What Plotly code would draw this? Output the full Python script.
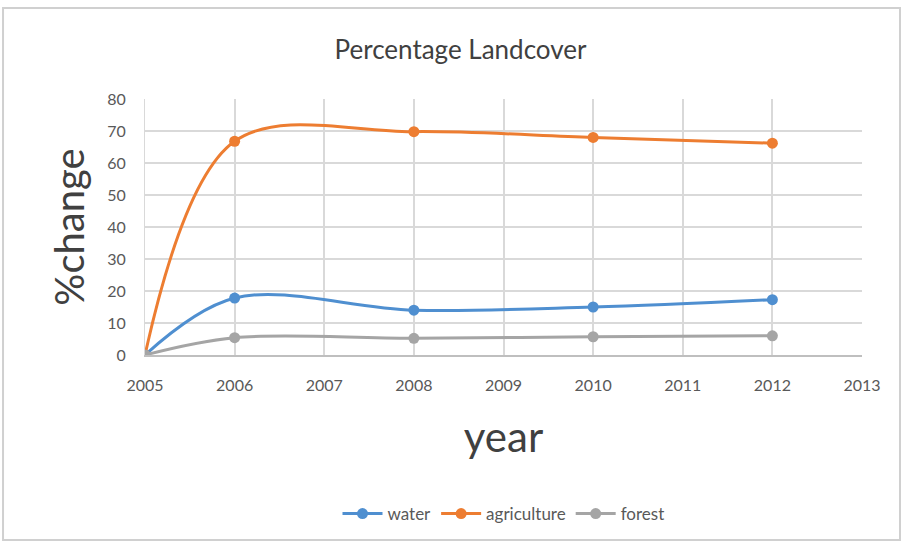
import plotly.graph_objects as go

years = [2005, 2006, 2008, 2010, 2012]
water = [0, 17.8, 14.0, 15.0, 17.3]
agriculture = [0, 66.8, 69.8, 68.0, 66.2]
forest = [0, 5.4, 5.2, 5.7, 6.0]

series = [("water", water, "#4F8FD0"), ("agriculture", agriculture, "#ED7D31"), ("forest", forest, "#A5A5A5")]

fig = go.Figure()
for name, vals, col in series:
    fig.add_trace(go.Scatter(x=years, y=vals, name=name, mode="lines+markers",
                             line=dict(color=col, width=3, shape="spline", smoothing=1.0),
                             marker=dict(color=col, size=11)))

font = "Lato, Open Sans, sans-serif"
fig.update_layout(
    width=903, height=545,
    paper_bgcolor="white", plot_bgcolor="white",
    margin=dict(l=145, r=41, t=99, b=190),
    title=dict(text="Percentage Landcover", x=0.51, xanchor="center", y=0.908, yanchor="middle",
               font=dict(family=font, size=26, color="#404040")),
    xaxis=dict(range=[2005, 2013], dtick=1, showgrid=True, gridcolor="#D9D9D9", gridwidth=1.5,
               zeroline=False, showline=True, linecolor="#BFBFBF", linewidth=1.5,
               tickfont=dict(family=font, size=16, color="#595959"), ticks="",
               ticklabelstandoff=15,
               title=dict(text="year", font=dict(family=font, size=42, color="#404040"), standoff=30)),
    yaxis=dict(range=[0, 80], dtick=10, showgrid=True, gridcolor="#D9D9D9", gridwidth=1.5,
               zeroline=False, showline=True, linecolor="#D9D9D9",
               tickfont=dict(family=font, size=16, color="#595959"), ticks="",
               ticklabelstandoff=15,
               title=dict(text="%change", font=dict(family=font, size=40, color="#404040"), standoff=10)),
    legend=dict(orientation="h", x=0.5, xanchor="center", y=-0.621, yanchor="middle",
                font=dict(family=font, size=17, color="#595959"), itemwidth=40),
    showlegend=True,
)
fig.add_shape(type="rect", xref="paper", yref="paper", x0=-0.198, x1=1.053, y0=-0.723, y1=1.355,
              line=dict(color="#D0D0D0", width=2), layer="below")
fig.write_html("out.html")
